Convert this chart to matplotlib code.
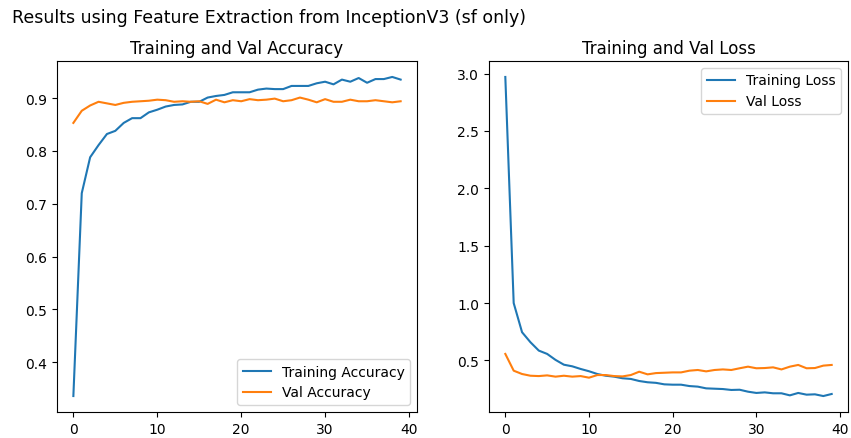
import matplotlib
matplotlib.use("Agg")
import matplotlib.pyplot as plt
import numpy as np

plt.rcParams['font.family'] = ['DejaVu Sans']

epochs = list(range(40))

train_acc = [0.336, 0.720, 0.788, 0.811, 0.832, 0.838, 0.853, 0.862, 0.862, 0.873,
             0.878, 0.884, 0.887, 0.888, 0.893, 0.893, 0.901, 0.904, 0.906, 0.911,
             0.911, 0.911, 0.916, 0.918, 0.917, 0.917, 0.923, 0.923, 0.923, 0.928,
             0.931, 0.926, 0.935, 0.931, 0.938, 0.929, 0.936, 0.936, 0.940, 0.935]
val_acc = [0.853, 0.876, 0.886, 0.893, 0.890, 0.887, 0.891, 0.893, 0.894, 0.895,
           0.897, 0.896, 0.893, 0.894, 0.893, 0.894, 0.889, 0.897, 0.892, 0.896,
           0.894, 0.898, 0.896, 0.897, 0.899, 0.894, 0.896, 0.901, 0.897, 0.892,
           0.898, 0.893, 0.893, 0.897, 0.894, 0.894, 0.896, 0.894, 0.892, 0.894]

train_loss = [2.970, 1.000, 0.746, 0.659, 0.586, 0.557, 0.505, 0.463, 0.449, 0.426,
              0.406, 0.382, 0.367, 0.359, 0.345, 0.339, 0.321, 0.310, 0.305, 0.292,
              0.289, 0.289, 0.277, 0.272, 0.257, 0.254, 0.251, 0.243, 0.245, 0.228,
              0.217, 0.222, 0.214, 0.214, 0.196, 0.217, 0.202, 0.205, 0.190, 0.208]
val_loss = [0.557, 0.411, 0.382, 0.367, 0.364, 0.370, 0.359, 0.367, 0.359, 0.364,
            0.350, 0.373, 0.373, 0.364, 0.361, 0.373, 0.402, 0.379, 0.390, 0.393,
            0.396, 0.396, 0.411, 0.417, 0.405, 0.417, 0.422, 0.417, 0.432, 0.446,
            0.432, 0.434, 0.440, 0.422, 0.446, 0.461, 0.432, 0.434, 0.455, 0.461]

fig = plt.figure(figsize=(8.51, 4.39), dpi=100)
ax1 = fig.add_axes([57 / 851, 1 - 413 / 439, 360 / 851, 351 / 439])
ax2 = fig.add_axes([489 / 851, 1 - 413 / 439, 359 / 851, 351 / 439])

fig.text(12 / 851, 1 - 18 / 439, "Results using Feature Extraction from InceptionV3 (sf only)",
         ha='left', va='center', fontsize=12.5)

ax1.plot(epochs, train_acc, label='Training Accuracy')
ax1.plot(epochs, val_acc, label='Val Accuracy')
ax1.legend(loc='lower right')
ax1.set_title('Training and Val Accuracy')

ax2.plot(epochs, train_loss, label='Training Loss')
ax2.plot(epochs, val_loss, label='Val Loss')
ax2.legend(loc='upper right')
ax2.set_title('Training and Val Loss')

fig.savefig('out.png', dpi=100)
